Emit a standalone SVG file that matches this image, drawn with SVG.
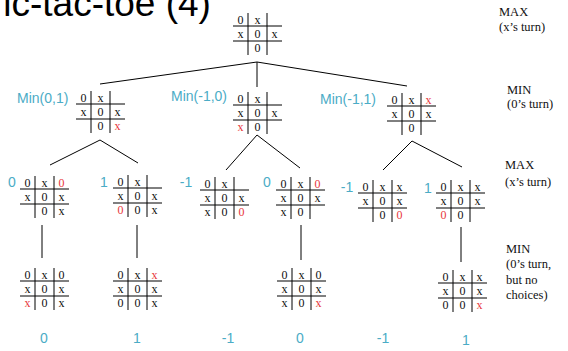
<svg xmlns="http://www.w3.org/2000/svg" width="568" height="351" viewBox="0 0 568 351">
<style>
.grid{fill:none;stroke:#000;stroke-width:1}
.b text{font-family:"Liberation Serif",serif;font-size:12px;text-anchor:middle;fill:#111}
.b text.r{fill:#e8383d}
.lab{font-family:"Liberation Sans",Arial,sans-serif;font-size:14px;fill:#4bacc6}
.val{font-family:"Liberation Sans",Arial,sans-serif;font-size:14px;fill:#4bacc6;text-anchor:middle}
.side{font-family:"Liberation Serif",serif;font-size:12.5px;fill:#111}
.title{font-family:"Liberation Sans",Arial,sans-serif;font-size:37px;fill:#000}
.conn path{fill:none;stroke:#000;stroke-width:1}
</style>
<defs>
<path id="grid" class="grid" d="M15 0V42M34 0V42M0 13H49M0 28H49"/>
</defs>
<text class="title" x="-18" y="16">Tic-tac-toe (4)</text>
<g id="levels">
<text class="side" x="499" y="16">MAX</text>
<text class="side" x="499" y="31">(x’s turn)</text>
<text class="side" x="507" y="94">MIN</text>
<text class="side" x="507" y="108">(0’s turn)</text>
<text class="side" x="505" y="169">MAX</text>
<text class="side" x="505" y="186">(x’s turn)</text>
<text class="side" x="506" y="253">MIN</text>
<text class="side" x="506" y="268">(0’s turn,</text>
<text class="side" x="506" y="284">but no</text>
<text class="side" x="506" y="299">choices)</text>
</g>
<g id="connectors" class="conn">
<path d="M257 62L100 84"/>
<path d="M257 62V87"/>
<path d="M257 62L407 86"/>
<path d="M100 140L50 165"/>
<path d="M100 140L138 163"/>
<path d="M257 135L226 170"/>
<path d="M257 135L300 168"/>
<path d="M412 141L383 170"/>
<path d="M412 141L462 167"/>
<path d="M42 225V258"/>
<path d="M137 225V258"/>
<path d="M301 225V260"/>
<path d="M461 227V262"/>
</g>
<g id="n-root" class="b" transform="translate(233,13)">
<use href="#grid"/>
<text x="7.5" y="11">0</text><text x="24.5" y="11">x</text>
<text x="7.5" y="25">x</text><text x="24.5" y="25">0</text><text x="41.5" y="25">x</text>
<text x="24.5" y="39">0</text>
</g>
<g id="n-a">
<text class="lab" x="17" y="103">Min(0,1)</text>
<g class="b" transform="translate(76,91)">
<use href="#grid"/>
<text x="7.5" y="11">0</text><text x="24.5" y="11">x</text>
<text x="7.5" y="25">x</text><text x="24.5" y="25">0</text><text x="41.5" y="25">x</text>
<text x="24.5" y="39">0</text><text class="r" x="41.5" y="39">x</text>
</g>
</g>
<g id="n-b">
<text class="lab" x="171" y="101">Min(-1,0)</text>
<g class="b" transform="translate(233,92)">
<use href="#grid"/>
<text x="7.5" y="11">0</text><text x="24.5" y="11">x</text>
<text x="7.5" y="25">x</text><text x="24.5" y="25">0</text><text x="41.5" y="25">x</text>
<text class="r" x="7.5" y="39">x</text><text x="24.5" y="39">0</text>
</g>
</g>
<g id="n-c">
<text class="lab" x="320" y="104">Min(-1,1)</text>
<g class="b" transform="translate(387,93)">
<use href="#grid"/>
<text x="7.5" y="11">0</text><text x="24.5" y="11">x</text><text class="r" x="41.5" y="11">x</text>
<text x="7.5" y="25">x</text><text x="24.5" y="25">0</text><text x="41.5" y="25">x</text>
<text x="24.5" y="39">0</text>
</g>
</g>
<g id="n-a1">
<text class="val" x="12" y="187">0</text>
<g class="b" transform="translate(20,176)">
<use href="#grid"/>
<text x="7.5" y="11">0</text><text x="24.5" y="11">x</text><text class="r" x="41.5" y="11">0</text>
<text x="7.5" y="25">x</text><text x="24.5" y="25">0</text><text x="41.5" y="25">x</text>
<text x="24.5" y="39">0</text><text x="41.5" y="39">x</text>
</g>
</g>
<g id="n-a2">
<text class="val" x="104" y="187">1</text>
<g class="b" transform="translate(113,175)">
<use href="#grid"/>
<text x="7.5" y="11">0</text><text x="24.5" y="11">x</text>
<text x="7.5" y="25">x</text><text x="24.5" y="25">0</text><text x="41.5" y="25">x</text>
<text class="r" x="7.5" y="39">0</text><text x="24.5" y="39">0</text><text x="41.5" y="39">x</text>
</g>
</g>
<g id="n-b1">
<text class="val" x="186" y="187">-1</text>
<g class="b" transform="translate(200,177)">
<use href="#grid"/>
<text x="7.5" y="11">0</text><text x="24.5" y="11">x</text>
<text x="7.5" y="25">x</text><text x="24.5" y="25">0</text><text x="41.5" y="25">x</text>
<text x="7.5" y="39">x</text><text x="24.5" y="39">0</text><text class="r" x="41.5" y="39">0</text>
</g>
</g>
<g id="n-b2">
<text class="val" x="267" y="187">0</text>
<g class="b" transform="translate(276,177)">
<use href="#grid"/>
<text x="7.5" y="11">0</text><text x="24.5" y="11">x</text><text class="r" x="41.5" y="11">0</text>
<text x="7.5" y="25">x</text><text x="24.5" y="25">0</text><text x="41.5" y="25">x</text>
<text x="7.5" y="39">x</text><text x="24.5" y="39">0</text>
</g>
</g>
<g id="n-c1">
<text class="val" x="347" y="192">-1</text>
<g class="b" transform="translate(358,180)">
<use href="#grid"/>
<text x="7.5" y="11">0</text><text x="24.5" y="11">x</text><text x="41.5" y="11">x</text>
<text x="7.5" y="25">x</text><text x="24.5" y="25">0</text><text x="41.5" y="25">x</text>
<text x="24.5" y="39">0</text><text class="r" x="41.5" y="39">0</text>
</g>
</g>
<g id="n-c2">
<text class="val" x="428" y="193">1</text>
<g class="b" transform="translate(436,180)">
<use href="#grid"/>
<text x="7.5" y="11">0</text><text x="24.5" y="11">x</text><text x="41.5" y="11">x</text>
<text x="7.5" y="25">x</text><text x="24.5" y="25">0</text><text x="41.5" y="25">x</text>
<text class="r" x="7.5" y="39">0</text><text x="24.5" y="39">0</text>
</g>
</g>
<g id="n-a1t" class="b" transform="translate(20,268)">
<use href="#grid"/>
<text x="7.5" y="11">0</text><text x="24.5" y="11">x</text><text x="41.5" y="11">0</text>
<text x="7.5" y="25">x</text><text x="24.5" y="25">0</text><text x="41.5" y="25">x</text>
<text class="r" x="7.5" y="39">x</text><text x="24.5" y="39">0</text><text x="41.5" y="39">x</text>
</g>
<g id="n-a2t" class="b" transform="translate(113,268)">
<use href="#grid"/>
<text x="7.5" y="11">0</text><text x="24.5" y="11">x</text><text class="r" x="41.5" y="11">x</text>
<text x="7.5" y="25">x</text><text x="24.5" y="25">0</text><text x="41.5" y="25">x</text>
<text x="7.5" y="39">0</text><text x="24.5" y="39">0</text><text x="41.5" y="39">x</text>
</g>
<g id="n-b2t" class="b" transform="translate(277,268)">
<use href="#grid"/>
<text x="7.5" y="11">0</text><text x="24.5" y="11">x</text><text x="41.5" y="11">0</text>
<text x="7.5" y="25">x</text><text x="24.5" y="25">0</text><text x="41.5" y="25">x</text>
<text x="7.5" y="39">x</text><text x="24.5" y="39">0</text><text class="r" x="41.5" y="39">x</text>
</g>
<g id="n-c2t" class="b" transform="translate(438,270)">
<use href="#grid"/>
<text x="7.5" y="11">0</text><text x="24.5" y="11">x</text><text x="41.5" y="11">x</text>
<text x="7.5" y="25">x</text><text x="24.5" y="25">0</text><text x="41.5" y="25">x</text>
<text x="7.5" y="39">0</text><text x="24.5" y="39">0</text><text class="r" x="41.5" y="39">x</text>
</g>
<g id="values">
<text class="val" x="44" y="343">0</text>
<text class="val" x="137" y="343">1</text>
<text class="val" x="228" y="343">-1</text>
<text class="val" x="300" y="343">0</text>
<text class="val" x="383" y="343">-1</text>
<text class="val" x="466" y="345">1</text>
</g>
</svg>
